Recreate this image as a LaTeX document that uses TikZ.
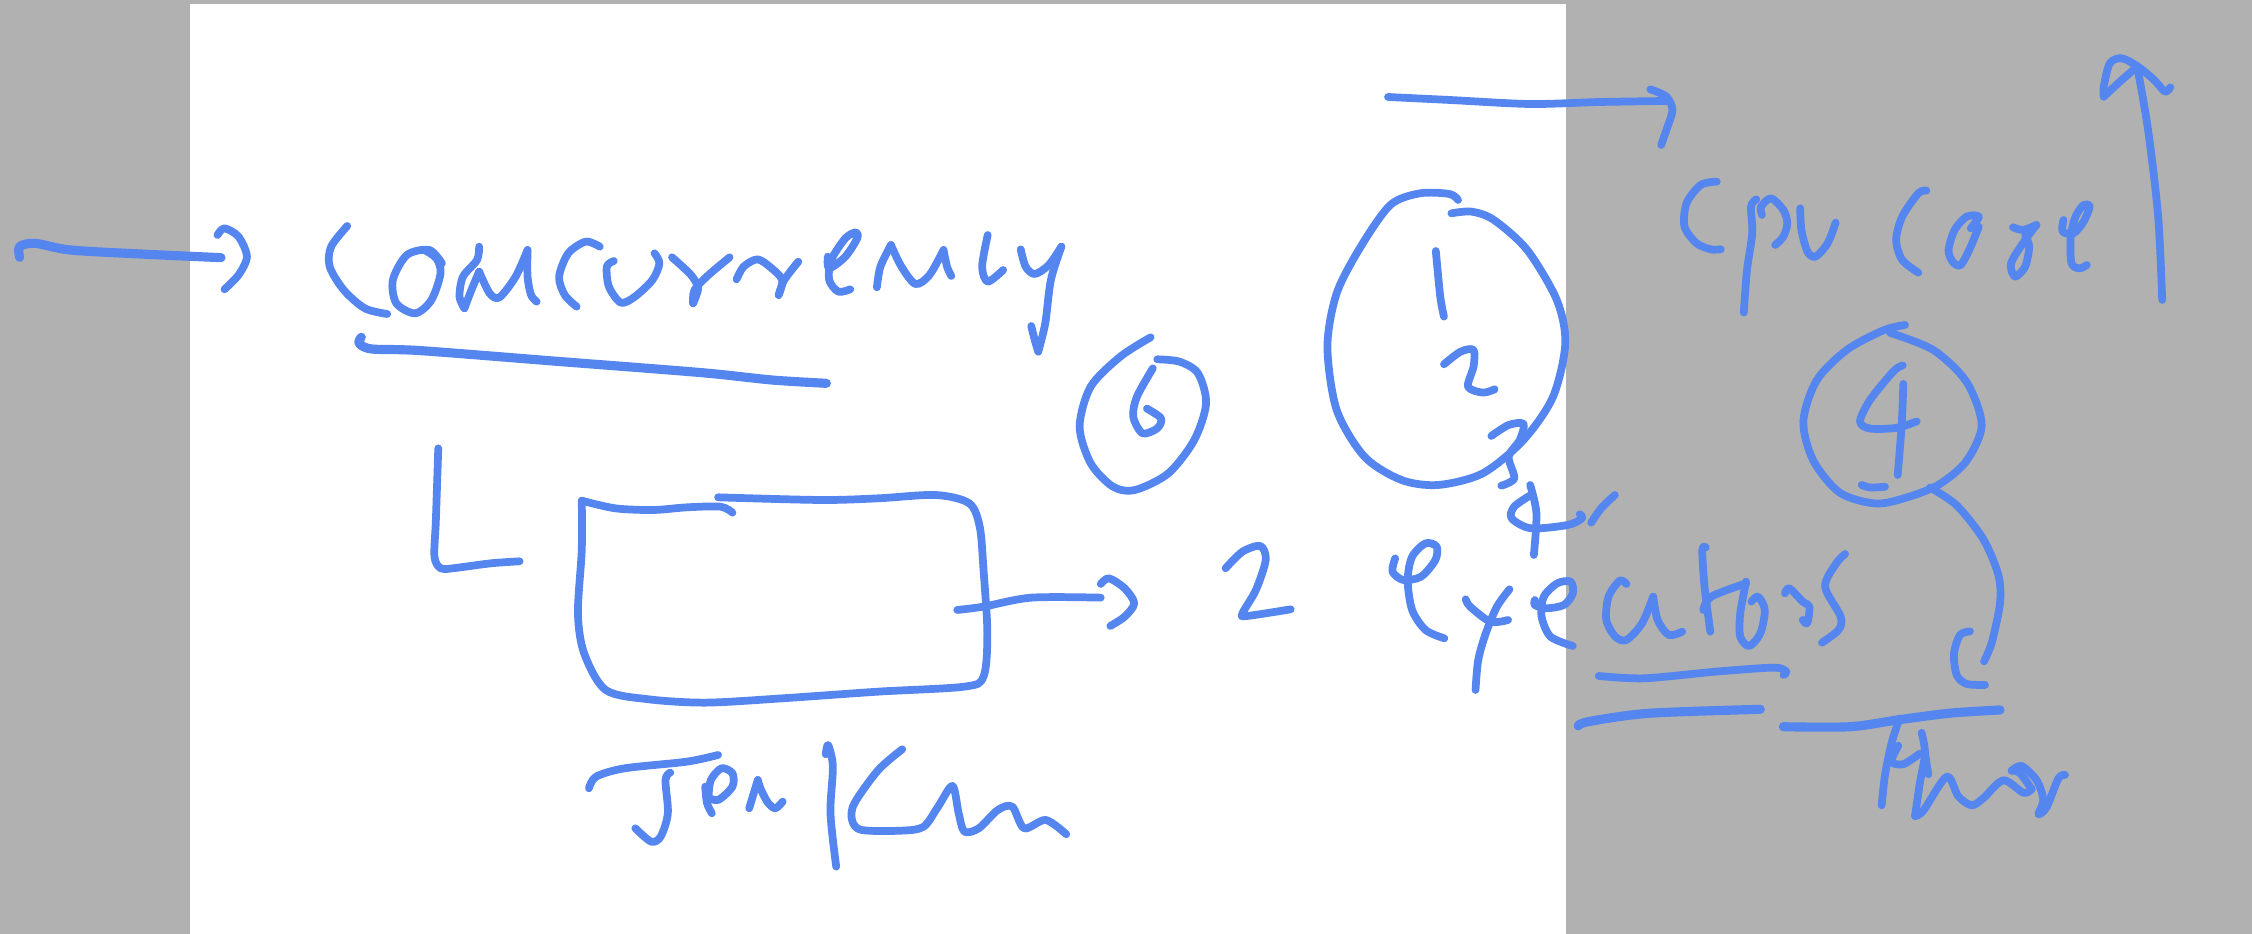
\documentclass[tikz,border=0pt]{standalone}
\definecolor{inkblue}{HTML}{5585EE}
\definecolor{sidegray}{HTML}{B1B1B1}
\tikzset{
    ink/.style={draw=inkblue,line width=2.2pt,line cap=round,line join=round},
    heavy/.style={ink,line width=2.6pt}
}
\newcommand{\penline}[2][ink]{\draw[#1] plot[smooth,tension=0.5] coordinates {#2};}
\begin{document}
\begin{tikzpicture}[x=0.01cm,y=-0.01cm]
    \useasboundingbox (0,0) rectangle (2252,934);
    \fill[sidegray] (0,0) rectangle (2252,934);
    \fill[white] (190,4) rectangle (1566,934);
    % concurrency
    \begin{scope}[shift={(0,200)},xscale=0.7015,yscale=0.3333]
        \penline[heavy]{(28,172) (28,140) (50,130) (100,150) (200,162) (315,173)}
        \penline{(310,105) (320,85) (340,110) (352,170) (340,225) (320,268)}
        \penline{(495,78) (472,140) (470,200) (490,270) (520,325) (552,342)}
        \penline{(630,190) (612,150) (580,165) (560,240) (565,310) (592,340) (615,300) (628,220) (622,175) (605,150)}
        \penline{(683,140) (680,180) (660,230) (655,290) (662,325)}
        \penline{(662,325) (672,270) (683,215)}
        \penline{(683,215) (698,280) (712,292) (735,230) (752,150)}
        \penline{(752,150) (752,230) (757,285) (765,305)}
        \penline{(855,140) (835,125) (810,160) (797,230) (805,285) (822,320)}
        \penline{(875,183) (865,200) (868,260) (885,308) (905,290) (930,240) (940,190) (933,160)}
        \penline{(958,172) (985,225) (995,265) (988,310)}
        \penline{(988,310) (990,270) (1010,225) (1040,172)}
        \penline{(1050,238) (1060,200) (1080,178) (1100,205) (1115,240) (1110,285)}
        \penline{(1110,285) (1118,240) (1138,185)}
        \penline{(1180,170) (1182,205) (1205,170) (1222,115) (1220,97) (1205,115) (1185,180) (1182,240) (1195,275) (1212,268)}
        \penline{(1250,262) (1255,200) (1270,135)}
        \penline{(1270,135) (1285,200) (1305,252) (1325,225) (1345,150)}
        \penline{(1345,150) (1350,200) (1356,228)}
        \penline{(1408,105) (1400,200) (1408,245) (1430,210)}
        \penline{(1455,148) (1462,200) (1475,222) (1495,195) (1513,140)}
        \penline{(1513,140) (1498,240) (1490,370) (1480,455)}
        \penline{(1480,455) (1475,420) (1470,378)}
        \penline[heavy]{(515,412) (512,430) (530,447) (600,452) (800,485) (1000,518) (1100,540) (1178,550)}
    \end{scope}
    % box and job label
    \begin{scope}[shift={(400,420)},xscale=0.4783,yscale=0.3333]
        \penline{(80,85) (75,300) (72,410) (85,445) (110,445) (190,430) (250,424)}
        \penline{(695,278) (670,260) (600,262) (530,270) (450,265) (380,242)}
        \penline{(380,242) (380,390) (372,580) (385,700) (430,810) (520,838) (640,848) (800,835) (1000,815) (1180,800) (1220,770) (1228,640) (1220,450) (1212,320) (1190,250) (1120,225) (1000,235) (880,240) (665,232)}
        \penline{(1165,570) (1220,560) (1320,533) (1465,533)}
        \penline{(1465,492) (1482,475) (1515,505) (1535,550) (1515,590) (1485,618)}
        \penline{(395,1105) (410,1070) (470,1045) (600,1025) (665,1005)}
        \penline{(565,1058) (555,1080) (560,1180) (545,1250) (525,1265) (492,1225)}
        \penline{(638,1100) (642,1150) (652,1180)}
        \penline{(640,1130) (665,1140) (695,1100) (695,1060) (672,1045) (650,1080) (645,1130)}
        \penline{(730,1165) (748,1080)}
        \penline{(748,1080) (755,1110) (770,1150) (785,1165) (800,1145)}
        \penline{(890,1003) (895,975) (905,1040) (900,1180) (912,1340)}
        \penline{(1050,988) (1000,1050) (950,1150) (945,1200) (965,1230) (1050,1232) (1095,1220) (1125,1160) (1155,1098) (1168,1180) (1180,1235) (1210,1225) (1250,1170) (1280,1160) (1305,1225) (1350,1200) (1393,1243)}
    \end{scope}
    % circled counts
    \begin{scope}[shift={(1050,170)},xscale=0.3699,yscale=0.3333]
        \penline{(272,502) (190,560) (110,650) (80,770) (110,880) (170,950) (230,960) (320,910) (390,810) (422,700) (400,610) (350,575) (290,568)}
        \penline{(278,595) (235,680) (225,740) (250,790) (290,775) (300,745) (262,716)}
        \penline{(1103,90) (1080,72) (1000,70) (920,105) (840,230) (775,370) (750,530) (775,720) (850,860) (950,930) (1050,945) (1170,910) (1280,810) (1360,680) (1393,520) (1370,390) (1290,240) (1200,150) (1140,125) (1085,130)}
        \penline{(1043,243) (1055,380) (1065,440)}
        \penline{(1065,583) (1110,545) (1145,540) (1145,590) (1130,650) (1170,668) (1202,658)}
        \penline{(1193,798) (1240,765) (1280,762) (1270,810) (1240,860) (1255,925) (1220,947)}
        \penline{(1298,945) (1315,1030) (1308,1155)}
        \penline{(1300,975) (1255,1010) (1248,1045) (1300,1075) (1400,1065) (1438,1045) (1432,1033)}
        \penline{(1463,1058) (1490,1015) (1527,975)}
    \end{scope}
    % executors
    \begin{scope}[shift={(1180,460)},xscale=0.4464,yscale=0.3333]
        \penline{(102,325) (140,275) (180,258) (192,300) (170,390) (140,460) (150,468) (248,448)}
        \penline{(482,295) (476,335) (500,360) (540,350) (572,300) (575,260) (550,250) (520,290) (510,360) (520,450) (550,510) (592,535)}
        \penline{(640,418) (650,440) (695,485) (735,480)}
        \penline{(738,388) (710,440) (685,520) (668,600) (662,690)}
        \penline{(795,420) (795,435) (820,445) (860,435) (880,400) (875,365) (845,370) (815,410) (810,470) (830,530) (880,558)}
        \penline{(1000,372) (985,362) (960,410) (955,480) (975,530) (1000,540) (1035,490) (1060,410)}
        \penline{(1060,410) (1070,480) (1095,525) (1125,515)}
        \penline{(1178,262) (1170,270) (1175,380) (1188,515)}
        \penline{(1172,450) (1190,410) (1268,370)}
        \penline{(1268,365) (1255,460) (1255,530) (1275,558) (1300,520) (1310,450) (1295,410) (1280,425)}
        \penline{(1355,400) (1365,385) (1395,425) (1410,440) (1405,490) (1395,480)}
        \penline{(1490,282) (1470,310) (1445,380) (1480,470) (1475,510) (1438,548)}
        \penline{(938,648) (1040,655) (1200,635) (1330,623) (1358,635) (1352,645)}
        \penline[heavy]{(892,798) (915,785) (1050,760) (1300,748)}
    \end{scope}
    % cpu core
    \penline{(1388,97) (1450,100) (1530,104) (1600,102) (1666,101)}
    \begin{scope}[shift={(1620,30)},xscale=0.4031,yscale=0.3333]
        \penline{(75,178) (115,200) (130,240) (115,300) (102,345)}
        \penline{(240,455) (200,465) (165,520) (160,590) (190,640) (225,658) (250,658)}
        \penline{(338,508) (325,530) (328,610) (315,720) (307,848)}
        \penline{(352,555) (350,530) (375,505) (405,540) (415,580) (405,620) (385,645)}
        \penline{(447,535) (450,600) (465,665) (485,680) (515,640) (535,578)}
        \penline{(760,482) (740,490) (700,560) (685,630) (700,690) (740,728)}
        \penline{(870,595) (890,560) (860,560) (830,600) (815,660) (825,695) (845,705) (870,650) (890,590)}
        \penline{(975,592) (1000,600) (1033,585)}
        \penline{(1033,585) (1005,630) (970,700) (980,740) (1005,710) (1015,650) (1005,615)}
        \penline{(1100,570) (1098,605) (1125,610) (1150,575) (1165,530) (1150,525) (1130,560) (1118,620) (1120,700) (1140,715) (1158,705)}
        \penline{(1345,810) (1335,560) (1310,300) (1283,110)}
        \penline{(1200,200) (1200,170) (1215,100) (1245,85) (1285,110) (1325,150) (1352,185) (1365,172)}
        \penline{(1200,200) (1240,155) (1283,110)}
    \end{scope}
    % threads
    \begin{scope}[shift={(1750,300)},xscale=0.3333,yscale=0.3571]
        \penline{(465,70) (400,85) (290,140) (200,225) (160,340) (190,450) (270,540) (380,570) (480,550) (570,515) (650,450) (695,350) (650,230) (550,140) (420,92)}
        \penline{(458,183) (430,200) (360,280) (330,340) (360,360) (440,358) (500,340)}
        \penline{(460,235) (455,350) (443,490)}
        \penline{(335,518) (360,525) (405,523)}
        \penline{(540,525) (620,575) (700,670) (745,770) (750,850) (725,960) (702,1012)}
        \penline{(660,928) (630,938) (612,990) (620,1050) (650,1075) (705,1078)}
        \penline[heavy]{(100,1195) (300,1195) (450,1175) (600,1157) (750,1148)}
        \penline{(448,1172) (425,1240) (405,1330) (395,1415)}
        \penline{(445,1248) (430,1275) (425,1295) (460,1300) (510,1270)}
        \penline{(515,1212) (525,1270) (510,1350) (495,1445)}
        \penline{(495,1445) (520,1430) (590,1335) (625,1390) (665,1415) (700,1395) (760,1345) (820,1380) (845,1370)}
        \penline{(845,1370) (810,1325) (785,1318)}
        \penline{(785,1318) (815,1305) (860,1345) (880,1400) (865,1440) (890,1420) (925,1340) (945,1330)}
        \penline{(525,1270) (535,1328)}
    \end{scope}
\end{tikzpicture}
\end{document}
